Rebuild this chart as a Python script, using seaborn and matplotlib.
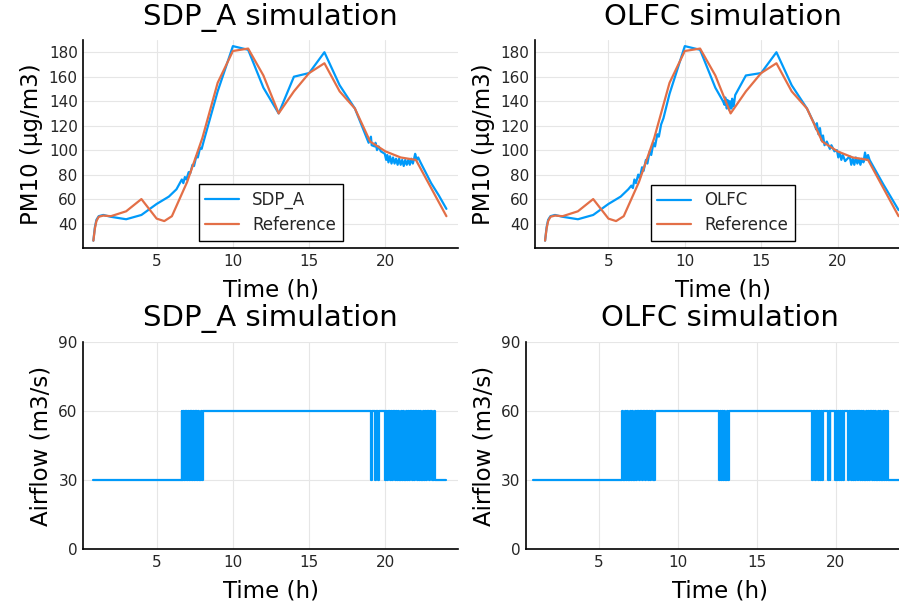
import matplotlib
matplotlib.use("Agg")
import matplotlib.pyplot as plt
import pandas as pd
import seaborn as sns

# PM10 reference trajectory (hours, ug/m3)
ref_time = [0.85, 0.95, 1.05, 1.2, 1.5, 2.0, 3.0, 4.0, 5.0, 5.5, 6.0, 7.0, 8.0, 9.0, 10.0, 11.0,
            12.0, 13.0, 14.0, 15.0, 16.0, 17.0, 18.0, 19.0, 20.0, 21.0, 22.0, 23.0, 24.0]
ref_pm10 = [26, 36, 42, 45.5, 46.5, 46, 50, 60, 44, 42, 46, 74, 110, 155, 181, 183,
            161, 130, 148, 163, 171, 148, 134, 107, 99, 94, 92, 69, 46]

# PM10 under SDP_A control
sdp_time = [0.85, 0.95, 1.05, 1.2, 1.5, 2.0, 3.0, 4.0, 5.0, 5.8, 6.3, 6.65, 6.75, 6.85, 6.95,
            7.1, 7.2, 7.35, 7.45, 7.6, 7.7, 7.85, 7.95, 8.1, 9.0, 10.0, 11.0, 12.0, 13.0,
            14.0, 15.0, 16.0, 17.0, 18.0, 18.9, 19.05, 19.1, 19.3, 19.35, 19.45, 19.56, 19.7,
            19.96, 20.05, 20.12, 20.2, 20.3, 20.4, 20.5, 20.6, 20.7, 20.8, 20.9, 21.0, 21.1,
            21.2, 21.3, 21.4, 21.5, 21.6, 21.7, 21.8, 21.9, 21.95, 22.05, 22.15, 22.3, 23.0,
            23.5, 24.0]
sdp_pm10 = [26, 37, 43, 46, 47, 45.5, 43.5, 47, 56, 62, 68, 76, 73, 78, 76,
            82, 81, 88, 87, 95, 94, 102, 101, 108, 148, 185, 182, 151, 130,
            160, 163, 180, 153, 134, 106, 111, 104, 103, 106, 100, 103, 99,
            97, 92, 96, 90, 95, 89, 94, 89, 93, 88, 93, 88, 92,
            87, 92, 88, 92, 88, 93, 89, 94, 97, 92, 94, 90, 73,
            63, 52]

# PM10 under OLFC control
olfc_time = [0.85, 0.95, 1.05, 1.2, 1.5, 2.0, 3.0, 4.0, 5.0, 5.8, 6.3, 6.5, 6.6, 6.7, 6.8,
             6.95, 7.05, 7.2, 7.3, 7.45, 7.55, 7.7, 7.8, 7.95, 8.05, 8.2, 8.3, 8.45, 8.6,
             9.0, 10.0, 11.0, 12.0, 12.5, 12.6, 12.65, 12.75, 12.8, 12.9, 12.95, 13.05,
             13.1, 13.2, 13.3, 14.0, 15.0, 16.0, 17.0, 18.0, 18.5, 18.6, 18.65, 18.75,
             18.85, 18.95, 19.05, 19.15, 19.3, 19.5, 19.6, 19.8, 19.96, 20.05, 20.15,
             20.25, 20.35, 20.5, 20.8, 20.9, 21.0, 21.1, 21.2, 21.3, 21.4, 21.5, 21.6,
             21.7, 21.8, 21.9, 22.0, 22.1, 23.0, 24.0]
olfc_pm10 = [26, 37, 43, 46, 47, 45.5, 43.5, 47, 56, 62, 68, 71, 69, 76, 73,
             80, 77, 86, 83, 92, 89, 99, 96, 106, 103, 113, 111, 121, 126,
             146, 185, 182, 151, 140, 137, 143, 134, 141, 133, 140, 134,
             142, 136, 145, 161, 163, 180, 153, 134, 121, 117, 122, 113,
             118, 108, 112, 104, 107, 101, 104, 99, 100, 94, 98,
             92, 96, 91, 95, 88, 93, 88, 94, 89, 93, 88, 93,
             90, 98, 92, 96, 92, 72, 51]

# airflow switching instants (each one flips between 30 and 60 m3/s)
sdp_switch = [6.63, 6.68, 6.73, 6.79, 6.84, 6.90, 6.95, 7.01, 7.06, 7.12, 7.17, 7.23, 7.28,
              7.34, 7.39, 7.45, 7.50, 7.56, 7.61, 7.67, 7.72, 7.80, 7.93, 7.97, 8.05,
              19.05, 19.15, 19.32, 19.38, 19.54, 19.60,
              19.96, 20.04, 20.12, 20.20, 20.28, 20.36, 20.44, 20.52, 20.60, 20.68, 20.76,
              20.84, 20.92, 21.00, 21.08, 21.16, 21.24, 21.32, 21.40, 21.48, 21.56, 21.64,
              21.72, 21.80, 21.88, 21.96, 22.04, 22.12, 22.20, 22.30, 22.36, 22.44, 22.52,
              22.60, 22.68, 22.76, 22.84, 22.92, 23.04, 23.18, 23.25]
olfc_switch = [6.48, 6.52, 6.62, 6.70, 6.78, 6.86, 6.94, 7.02, 7.10, 7.18, 7.26, 7.34, 7.42,
               7.50, 7.58, 7.70, 7.76, 7.90, 7.96, 8.10, 8.16, 8.26, 8.32, 8.42, 8.57,
               12.59, 12.66, 12.73, 12.80, 12.87, 12.94, 13.01, 13.08, 13.16, 13.24,
               18.52, 18.58, 18.70, 18.76, 18.85, 18.92, 19.00, 19.06, 19.14, 19.20,
               19.50, 19.56, 19.62, 19.66,
               19.96, 20.02, 20.08, 20.14, 20.20, 20.26, 20.32, 20.38, 20.44, 20.52,
               20.80, 20.86, 20.95, 21.00, 21.08, 21.16, 21.22, 21.30, 21.38, 21.44, 21.52,
               21.58, 21.66, 21.74, 21.80, 21.90, 21.96, 22.06, 22.12, 22.20, 22.28, 22.34,
               22.42, 22.50, 22.56, 22.66, 22.72, 22.82, 22.90, 22.98, 23.06, 23.14, 23.20,
               23.28, 23.33]
airflow_start, airflow_end = 0.84, 24.0
airflow_levels = (30, 60)

pm10_ticks = [40, 60, 80, 100, 120, 140, 160, 180]
airflow_ticks = [0, 30, 60, 90]
time_ticks = [5, 10, 15, 20]

BLUE = '#009AFA'
ORANGE = '#E36F47'


def airflow_frame(switches):
    low, high = airflow_levels
    times = [airflow_start] + switches + [airflow_end]
    levels = [low]
    for _ in switches:
        levels.append(high if levels[-1] == low else low)
    levels.append(levels[-1])
    return pd.DataFrame({'Time (h)': times, 'Airflow': levels})


def style_axes(ax, title, ylabel, title_pad, xlabel_pad):
    ax.set_title(title, fontsize=21, pad=title_pad, color='black')
    ax.set_xlabel('Time (h)', fontsize=16.5, color='black', labelpad=xlabel_pad)
    ax.set_ylabel(ylabel, fontsize=16.5, color='black', labelpad=4)
    for side in ['top', 'right']:
        ax.spines[side].set_visible(False)
    for side in ['left', 'bottom']:
        ax.spines[side].set_color('black')
        ax.spines[side].set_linewidth(1.2)
    ax.tick_params(direction='in', length=4, width=1, color='black',
                   labelsize=11, labelcolor='#262626', pad=4)
    ax.grid(True, color='#e6e6e6', linewidth=0.8)
    ax.set_xticks(time_ticks)


sns.set_theme(style="whitegrid")
plt.rcParams['font.family'] = ['DejaVu Sans']

W, H = 899, 608
fig = plt.figure(figsize=(W / 100, H / 100), dpi=100)
ax_tl = fig.add_axes([83.3 / W, (H - 248) / H, 374.7 / W, 208 / H])
ax_tr = fig.add_axes([535 / W, (H - 248) / H, 375.2 / W, 208 / H])
ax_bl = fig.add_axes([83.3 / W, (H - 549.3) / H, 374.7 / W, 207.6 / H])
ax_br = fig.add_axes([526 / W, (H - 549.3) / H, 388 / W, 207.6 / H])

# PM10 panels
for ax, t, v, name in [(ax_tl, sdp_time, sdp_pm10, 'SDP_A'),
                       (ax_tr, olfc_time, olfc_pm10, 'OLFC')]:
    sns.lineplot(x=t, y=v, ax=ax, color=BLUE, lw=1.6, label=name,
                 estimator=None, sort=False)
    sns.lineplot(x=ref_time, y=ref_pm10, ax=ax, color=ORANGE, lw=1.6,
                 label='Reference', estimator=None, sort=False)
    style_axes(ax, f'{name} simulation', 'PM10 (µg/m3)', 10.5, 7.5)
    ax.set_yticks(pm10_ticks)
    ax.set_ylim(20, 190)
    ax.set_xlim(0.19, 24.76)
    leg = ax.legend(loc='lower center', bbox_to_anchor=(0.5, 0.035), borderaxespad=0,
                    fontsize=12, frameon=True, fancybox=False, edgecolor='black',
                    framealpha=1, handlelength=2.0, handletextpad=0.8,
                    labelspacing=0.4, borderpad=0.4)
    leg.get_frame().set_linewidth(1.0)

# airflow panels
for ax, sw, name, xl in [(ax_bl, sdp_switch, 'SDP_A', (0.19, 24.76)),
                         (ax_br, olfc_switch, 'OLFC', (0.37, 24.96))]:
    sns.lineplot(data=airflow_frame(sw), x='Time (h)', y='Airflow', ax=ax, color=BLUE,
                 lw=1.6, drawstyle='steps-post', estimator=None, sort=False)
    style_axes(ax, f'{name} simulation', 'Airflow (m3/s)', 11, 7)
    ax.set_yticks(airflow_ticks)
    ax.set_ylim(0, 90)
    ax.set_xlim(*xl)

fig.savefig('out.png', dpi=100)
